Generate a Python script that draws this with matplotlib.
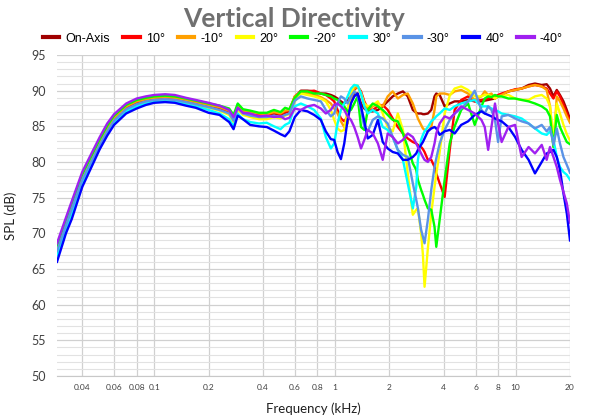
import matplotlib
matplotlib.use('Agg')
import matplotlib.pyplot as plt
from matplotlib.ticker import FixedLocator, MultipleLocator, NullLocator

# frequency points (kHz)
freq_khz = [0.029, 0.0325, 0.035, 0.04, 0.045, 0.05, 0.055, 0.06, 0.07, 0.08,
            0.09, 0.1, 0.115, 0.13, 0.15, 0.17, 0.2, 0.23, 0.26, 0.275,
            0.29, 0.31, 0.34, 0.38, 0.42, 0.46, 0.5, 0.53, 0.56, 0.6,
            0.648, 0.705, 0.768, 0.836, 0.891, 0.95, 0.991, 1.035, 1.08, 1.127,
            1.176, 1.227, 1.28, 1.337, 1.395, 1.455, 1.52, 1.62, 1.73, 1.84,
            1.96, 2.09, 2.23, 2.38, 2.53, 2.7, 2.82, 2.88, 3.0, 3.07,
            3.135, 3.27, 3.415, 3.56, 3.64, 3.8, 4.05, 4.32, 4.6, 5.0,
            5.46, 5.94, 6.47, 6.75, 7.05, 7.35, 7.69, 8.0, 8.37, 9.12,
            9.94, 10.8, 11.8, 12.8, 13.95, 14.86, 15.5, 16.2, 16.9, 17.6,
            18.4, 19.2, 20.0]

on_axis = [67.7, 71.3, 73.6, 77.7, 80.3, 82.6, 84.5, 86.0, 87.6, 88.3,
           88.6, 88.8, 88.9, 88.8, 88.5, 88.2, 87.9, 87.5, 87.0, 85.9,
           87.8, 87.0, 86.8, 86.6, 86.5, 86.8, 86.6, 86.9, 87.1, 89.0,
           90.0, 90.0, 89.9, 89.6, 89.6, 89.4, 89.2, 88.9, 88.5, 88.2,
           88.7, 89.2, 89.6, 89.6, 88.2, 87.5, 87.1, 87.1, 87.3, 87.8,
           88.5, 89.2, 89.6, 89.9, 89.2, 87.3, 86.9, 86.8, 86.8, 86.7,
           86.7, 86.8, 87.3, 89.2, 89.6, 89.4, 87.8, 88.2, 88.5, 88.5,
           88.7, 88.5, 88.5, 88.6, 88.7, 88.8, 88.9, 89.2, 89.4, 89.9,
           90.1, 90.3, 90.8, 91.0, 90.8, 90.9, 90.3, 89.2, 90.1, 89.4,
           88.5, 87.3, 86.0]

deg_p10 = [67.8, 71.4, 73.7, 77.8, 80.4, 82.7, 84.6, 86.1, 87.7, 88.4,
           88.7, 88.9, 89.0, 88.9, 88.6, 88.3, 88.0, 87.6, 87.1, 86.0,
           87.9, 87.1, 86.9, 86.7, 86.6, 86.9, 86.7, 87.0, 87.2, 89.2,
           89.9, 89.9, 90.0, 89.6, 89.4, 88.9, 88.5, 87.3, 86.1, 85.7,
           86.4, 88.7, 90.1, 90.6, 89.9, 88.5, 87.5, 87.3, 87.8, 88.0,
           87.3, 86.1, 84.9, 84.0, 83.3, 82.8, 82.6, 82.4, 82.1, 81.8,
           81.4, 80.3, 80.3, 79.3, 78.4, 77.0, 75.1, 81.7, 87.3, 88.7,
           89.2, 88.5, 88.7, 88.8, 88.9, 89.1, 89.2, 89.4, 89.6, 89.9,
           90.2, 90.3, 90.6, 90.8, 90.6, 90.3, 89.6, 88.9, 89.9, 89.2,
           88.0, 86.8, 85.8]

deg_m10 = [68.0, 71.6, 73.9, 78.0, 80.6, 82.9, 84.8, 86.2, 87.8, 88.5,
           88.8, 89.0, 89.1, 89.0, 88.7, 88.4, 88.0, 87.7, 87.2, 86.2,
           88.0, 87.2, 87.0, 86.8, 86.7, 87.0, 86.8, 87.2, 87.3, 89.2,
           89.8, 89.6, 89.4, 89.1, 88.7, 88.2, 87.5, 86.8, 85.7, 84.9,
           85.4, 88.7, 90.3, 90.6, 89.6, 88.2, 87.3, 87.8, 88.2, 87.8,
           89.2, 89.9, 88.9, 89.4, 89.6, 88.2, 86.8, 86.1, 85.2, 84.7,
           84.5, 84.3, 84.9, 87.3, 89.2, 89.6, 89.6, 89.4, 89.9, 90.1,
           89.6, 88.7, 89.2, 89.9, 89.4, 89.6, 88.9, 89.2, 89.4, 89.9,
           90.1, 90.3, 90.6, 90.8, 90.6, 90.1, 87.8, 82.1, 89.2, 88.5,
           87.5, 86.4, 85.5]

deg_p20 = [67.4, 71.0, 73.3, 77.4, 80.0, 82.3, 84.2, 85.7, 87.3, 88.0,
           88.4, 88.6, 88.7, 88.6, 88.3, 88.0, 87.6, 87.2, 86.6, 85.6,
           87.3, 86.6, 86.3, 86.0, 86.0, 86.3, 86.1, 86.5, 86.7, 88.5,
           89.6, 89.4, 89.2, 88.9, 88.5, 87.3, 85.9, 84.7, 84.3, 84.5,
           87.3, 89.6, 90.8, 90.7, 89.6, 88.2, 87.8, 88.0, 88.5, 86.8,
           84.9, 84.3, 86.8, 84.5, 78.4, 72.6, 73.3, 73.5, 70.0, 67.0,
           62.5, 67.9, 72.8, 76.5, 78.3, 81.4, 86.8, 89.3, 90.3, 90.6,
           90.1, 89.2, 89.2, 89.4, 89.4, 89.2, 88.9, 89.2, 89.2, 89.4,
           88.9, 88.7, 88.7, 89.2, 89.4, 88.9, 87.8, 83.1, 88.2, 86.8,
           85.2, 83.9, 83.0]

deg_m20 = [68.3, 71.9, 74.2, 78.3, 80.9, 83.2, 85.1, 86.5, 88.0, 88.7,
           89.0, 89.2, 89.3, 89.2, 88.9, 88.6, 88.2, 87.9, 87.5, 86.6,
           88.2, 87.4, 87.2, 86.9, 86.9, 87.3, 87.0, 87.6, 87.4, 89.0,
           89.9, 89.9, 89.6, 89.6, 89.4, 89.2, 88.9, 88.7, 88.2, 87.8,
           87.1, 87.3, 88.2, 89.2, 84.9, 84.5, 87.3, 88.2, 87.8, 87.3,
           86.6, 85.9, 85.7, 84.0, 82.1, 79.8, 78.9, 77.5, 76.1, 75.4,
           74.7, 73.5, 73.3, 70.9, 68.1, 71.9, 77.5, 82.6, 85.0, 87.3,
           88.2, 85.2, 87.8, 88.9, 89.2, 89.1, 89.4, 89.2, 89.2, 88.9,
           88.9, 88.7, 88.5, 88.2, 87.8, 87.3, 86.4, 82.1, 86.6, 84.9,
           83.8, 82.8, 82.5]

deg_p30 = [66.9, 70.6, 72.8, 77.0, 79.6, 82.0, 83.9, 85.5, 87.1, 87.8,
           88.2, 88.5, 88.6, 88.5, 88.1, 87.8, 87.3, 86.8, 86.0, 85.0,
           86.8, 86.0, 85.6, 85.4, 85.5, 85.0, 84.6, 85.2, 85.5, 87.8,
           88.2, 87.8, 87.3, 86.1, 83.5, 81.9, 82.6, 85.4, 87.3, 88.2,
           89.2, 90.3, 90.8, 90.7, 89.6, 87.8, 86.8, 87.3, 86.8, 84.9,
           84.5, 83.5, 81.7, 80.3, 77.0, 73.5, 76.5, 80.3, 83.1, 83.8,
           84.3, 84.9, 85.7, 86.1, 86.4, 86.8, 87.5, 87.3, 87.8, 88.2,
           88.5, 88.7, 87.8, 87.8, 87.8, 87.5, 87.3, 87.1, 86.8, 86.6,
           86.4, 86.1, 85.4, 84.7, 84.0, 83.8, 84.3, 83.1, 80.7, 79.3,
           78.6, 78.2, 77.5]

deg_m30 = [67.5, 71.1, 73.4, 77.5, 80.1, 82.4, 84.3, 85.8, 87.4, 88.1,
           88.5, 88.7, 88.8, 88.7, 88.4, 88.1, 87.7, 87.3, 86.8, 85.8,
           87.6, 86.8, 86.5, 86.3, 86.3, 86.5, 86.3, 86.6, 86.8, 88.6,
           89.2, 88.9, 88.7, 88.5, 87.3, 86.4, 86.8, 88.2, 89.2, 88.9,
           88.2, 89.2, 89.9, 89.2, 87.3, 84.9, 84.3, 85.9, 86.4, 86.1,
           85.4, 83.5, 81.7, 81.0, 80.7, 77.0, 74.7, 73.5, 70.5, 69.5,
           68.6, 71.9, 76.1, 79.3, 80.5, 82.6, 84.5, 85.9, 86.8, 87.5,
           88.5, 90.0, 87.3, 86.8, 87.8, 87.3, 85.9, 82.8, 86.4, 86.6,
           86.1, 85.7, 85.4, 84.7, 85.2, 84.3, 84.9, 82.4, 84.7, 82.6,
           80.7, 79.6, 78.5]

deg_p40 = [66.0, 70.0, 72.0, 76.5, 79.3, 81.8, 83.7, 85.2, 86.8, 87.5,
           88.0, 88.3, 88.4, 88.3, 87.9, 87.6, 86.9, 86.6, 85.6, 84.6,
           86.5, 86.0, 85.2, 85.0, 84.9, 84.4, 83.9, 83.6, 84.3, 86.3,
           87.3, 87.1, 86.6, 85.9, 84.3, 83.2, 83.1, 81.4, 80.4, 82.6,
           85.9, 88.2, 89.2, 89.6, 87.8, 85.7, 83.3, 83.8, 85.9, 82.8,
           81.9, 81.4, 81.2, 80.3, 80.3, 80.7, 81.2, 81.7, 82.4, 82.8,
           83.3, 84.3, 84.7, 84.9, 84.7, 83.8, 84.3, 84.5, 84.0, 85.2,
           85.7, 86.6, 87.1, 86.8, 86.6, 86.4, 86.1, 85.9, 85.7, 84.9,
           83.5, 81.7, 80.3, 78.4, 80.0, 81.2, 81.4, 81.7, 80.7, 78.9,
           75.6, 72.8, 69.0]

deg_m40 = [68.6, 72.2, 74.5, 78.6, 81.2, 83.5, 85.4, 86.7, 88.2, 88.9,
           89.2, 89.4, 89.5, 89.4, 89.0, 88.7, 88.3, 87.9, 87.3, 86.3,
           87.6, 86.9, 86.8, 86.4, 86.5, 86.3, 86.4, 86.0, 86.2, 87.5,
           87.3, 87.8, 88.0, 87.5, 86.8, 87.3, 88.0, 88.2, 87.8, 87.3,
           86.4, 85.9, 84.9, 83.5, 81.9, 83.1, 84.5, 84.0, 82.6, 80.3,
           84.0, 83.5, 82.6, 83.1, 84.0, 83.5, 82.6, 82.1, 81.2, 80.7,
           80.3, 80.0, 80.7, 82.6, 84.0, 85.4, 86.4, 86.1, 86.8, 87.8,
           87.3, 86.8, 85.9, 84.9, 81.7, 84.9, 88.2, 85.4, 82.8, 84.9,
           85.2, 80.7, 82.1, 81.2, 82.4, 80.3, 82.1, 80.7, 79.3, 77.5,
           75.8, 74.2, 71.5]

series = [on_axis, deg_p10, deg_m10, deg_p20, deg_m20, deg_p30, deg_m30, deg_p40, deg_m40]
labels = ['On-Axis', '10°', '-10°', '20°', '-20°', '30°', '-30°', '40°', '-40°']
colors = ['#A00000', '#FF0000', '#FFA000', '#FFFF00', '#00FF00', '#00FFFF',
          '#5A93E6', '#0000FF', '#A020F0']

x_ticks = [0.04, 0.06, 0.08, 0.1, 0.2, 0.4, 0.6, 0.8, 1, 2, 4, 6, 8, 10, 20]
x_tick_labels = ['0.04', '0.06', '0.08', '0.1', '0.2', '0.4', '0.6', '0.8', '1',
                 '2', '4', '6', '8', '10', '20']

fig = plt.figure(figsize=(6, 4.2), dpi=100)
ax = fig.add_axes([0.095, 0.105, 0.855, 0.764])

for vals, lab, col in zip(series, labels, colors):
    ax.plot(freq_khz, vals, color=col, lw=1.7, label=lab, solid_joinstyle='round')

ax.set_xscale('log')
ax.set_xlim(0.029, 20)
ax.set_ylim(50, 95)
ax.xaxis.set_major_locator(FixedLocator(x_ticks))
ax.xaxis.set_minor_locator(NullLocator())
ax.set_xticklabels(x_tick_labels)
ax.yaxis.set_major_locator(MultipleLocator(5))
ax.yaxis.set_minor_locator(MultipleLocator(1))

ax.grid(True, which='major', axis='both', color='#d0d0d0', lw=0.9)
ax.grid(True, which='minor', axis='y', color='#e2e2e2', lw=0.8)
ax.set_axisbelow(True)
for s in ['top', 'left', 'right']:
    ax.spines[s].set_visible(False)
ax.spines['bottom'].set_color('#c8c8c8')
ax.tick_params(axis='both', which='both', length=0)
ax.tick_params(axis='x', labelsize=6, labelcolor='#404040', pad=6)
ax.tick_params(axis='y', labelsize=9, labelcolor='#404040', pad=8)
for t in ax.get_xticklabels() + ax.get_yticklabels():
    t.set_family('Lato')

ax.set_xlabel('Frequency (kHz)', fontsize=9.5, color='#202020', family='Lato', labelpad=8)
ax.set_ylabel('SPL (dB)', fontsize=9.5, color='#202020', family='Lato', labelpad=10)

fig.text(0.49, 0.955, 'Vertical Directivity', ha='center', va='center',
         fontsize=19, fontweight='bold', color='#707070', family='Lato')

leg = fig.legend(loc='center', bbox_to_anchor=(0.505, 0.908), ncol=9, frameon=False,
                 handlelength=1.3, handletextpad=0.5, columnspacing=1.05,
                 prop={'family': 'Liberation Sans', 'size': 9})
for h in leg.get_lines():
    h.set_linewidth(3)

fig.savefig('out.png', dpi=100)
